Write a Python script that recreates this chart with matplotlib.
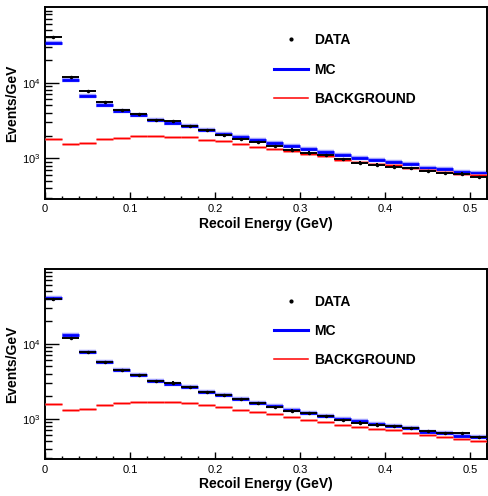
import numpy as np
import matplotlib
matplotlib.use("Agg")
import matplotlib.pyplot as plt
from matplotlib.lines import Line2D
from matplotlib.ticker import LogLocator, MultipleLocator, NullFormatter

plt.rcParams['font.family'] = ['Liberation Sans', 'DejaVu Sans']
plt.rcParams['mathtext.fontset'] = 'custom'
plt.rcParams['mathtext.rm'] = 'Liberation Sans'

# 26 bins of 0.02 GeV from 0 to 0.52
bin_edges = np.linspace(0, 0.52, 27)

# Top panel
top_data = [40200, 11900, 7770, 5610, 4390, 3820, 3210, 3070, 2670, 2350, 2015, 1800, 1640,
            1455, 1300, 1186, 1106, 970, 875, 823, 774, 737, 679, 634, 625, 566]
top_data_err = [1500, 450, 280, 200, 160, 140, 120, 110, 100, 85, 75, 65, 60,
                55, 48, 44, 41, 36, 33, 31, 29, 28, 26, 24, 24, 22]
top_mc = [33200, 10960, 6730, 5120, 4225, 3740, 3210, 2900, 2670, 2350, 2115, 1930, 1730,
          1580, 1455, 1327, 1205, 1096, 1009, 949, 893, 833, 751, 715, 659, 639]
top_bkg = [1816, 1560, 1608, 1784, 1873, 1991, 1991, 1931, 1896, 1746, 1679, 1560, 1424,
           1340, 1249, 1150, 1057, 958, 893, 849, 823, 751, 694, 653, 625, 607]

# Bottom panel
bot_data = [39100, 11850, 7755, 5675, 4453, 3828, 3192, 3034, 2636, 2266, 2046, 1811, 1603,
            1438, 1285, 1185, 1082, 959, 886, 834, 792, 745, 681, 647, 647, 562]
bot_data_err = [1500, 450, 280, 200, 160, 140, 120, 110, 100, 85, 75, 65, 60,
                55, 48, 44, 41, 36, 33, 31, 29, 28, 26, 24, 24, 22]
bot_mc = [40640, 13130, 7755, 5675, 4453, 3828, 3221, 2871, 2636, 2266, 2046, 1811, 1603,
          1496, 1313, 1185, 1088, 979, 921, 859, 799, 745, 667, 647, 590, 568]
bot_bkg = [1556, 1313, 1367, 1528, 1625, 1690, 1690, 1648, 1625, 1510, 1438, 1325, 1221,
           1149, 1050, 971, 902, 824, 775, 730, 702, 647, 597, 573, 534, 507]

fig = plt.figure(figsize=(4.88, 4.96), dpi=100)
ax1 = fig.add_axes([0.0922, 0.599, 0.906, 0.386])
ax2 = fig.add_axes([0.0922, 0.0746, 0.906, 0.383])

lo = bin_edges[:-1]
hi = bin_edges[1:]
centers = 0.5 * (lo + hi)
halfw = 0.5 * (hi - lo)

for ax, data, err, mc, bkg in [(ax1, top_data, top_data_err, top_mc, top_bkg),
                               (ax2, bot_data, bot_data_err, bot_mc, bot_bkg)]:
    # MC with a soft halo like the ROOT render
    ax.hlines(mc, lo, hi, colors='#a0a0ff', linewidth=3.2, zorder=2)
    ax.hlines(mc, lo, hi, colors='#0000ff', linewidth=2.0, zorder=3)
    ax.hlines(bkg, lo, hi, colors='#ff9090', linewidth=1.8, zorder=4)
    ax.hlines(bkg, lo, hi, colors='#ff0000', linewidth=1.0, zorder=5)
    ax.errorbar(centers, data, xerr=halfw, yerr=err, fmt='.', color='black',
                markersize=3, elinewidth=1.4, capsize=0, zorder=6)

    ax.set_yscale('log')
    ax.set_xlim(0, 0.52)
    ax.set_ylim(290, 9.9e4)
    ax.yaxis.set_major_locator(LogLocator(base=10, numticks=10))
    ax.yaxis.set_minor_locator(LogLocator(base=10, subs=np.arange(2, 10), numticks=20))
    ax.yaxis.set_minor_formatter(NullFormatter())
    ax.xaxis.set_major_locator(MultipleLocator(0.1))
    ax.xaxis.set_minor_locator(MultipleLocator(0.02))
    ax.xaxis.set_major_formatter(plt.FuncFormatter(lambda v, p: '0' if abs(v) < 1e-9 else f'{v:g}'))
    ax.tick_params(axis='both', which='both', direction='in', labelsize=8,
                   top=False, right=False, width=1.0, color='black')
    ax.tick_params(axis='y', which='major', length=10, pad=3)
    ax.tick_params(axis='y', which='minor', length=5)
    ax.tick_params(axis='x', which='major', length=5, pad=4)
    ax.tick_params(axis='x', which='minor', length=2.5)
    for s in ax.spines.values():
        s.set_linewidth(1.4)

    ax.set_ylabel('Events/GeV', fontsize=10, fontweight='bold', labelpad=2)
    ax.set_xlabel('Recoil Energy (GeV)', fontsize=10, fontweight='bold', labelpad=2)

    handles = [Line2D([], [], color='black', marker='.', markersize=4, linestyle='none'),
               Line2D([], [], color='#0000ff', linewidth=2.2),
               Line2D([], [], color='#ff0000', linewidth=1.1)]
    ax.legend(handles, ['DATA', 'MC', 'BACKGROUND'], loc='upper left',
              bbox_to_anchor=(0.518, 0.865), frameon=False, borderpad=0,
              borderaxespad=0, labelspacing=1.1, handlelength=2.45,
              handletextpad=0.45, prop={'size': 10, 'weight': 'bold'})

fig.savefig('out.png', dpi=100)
